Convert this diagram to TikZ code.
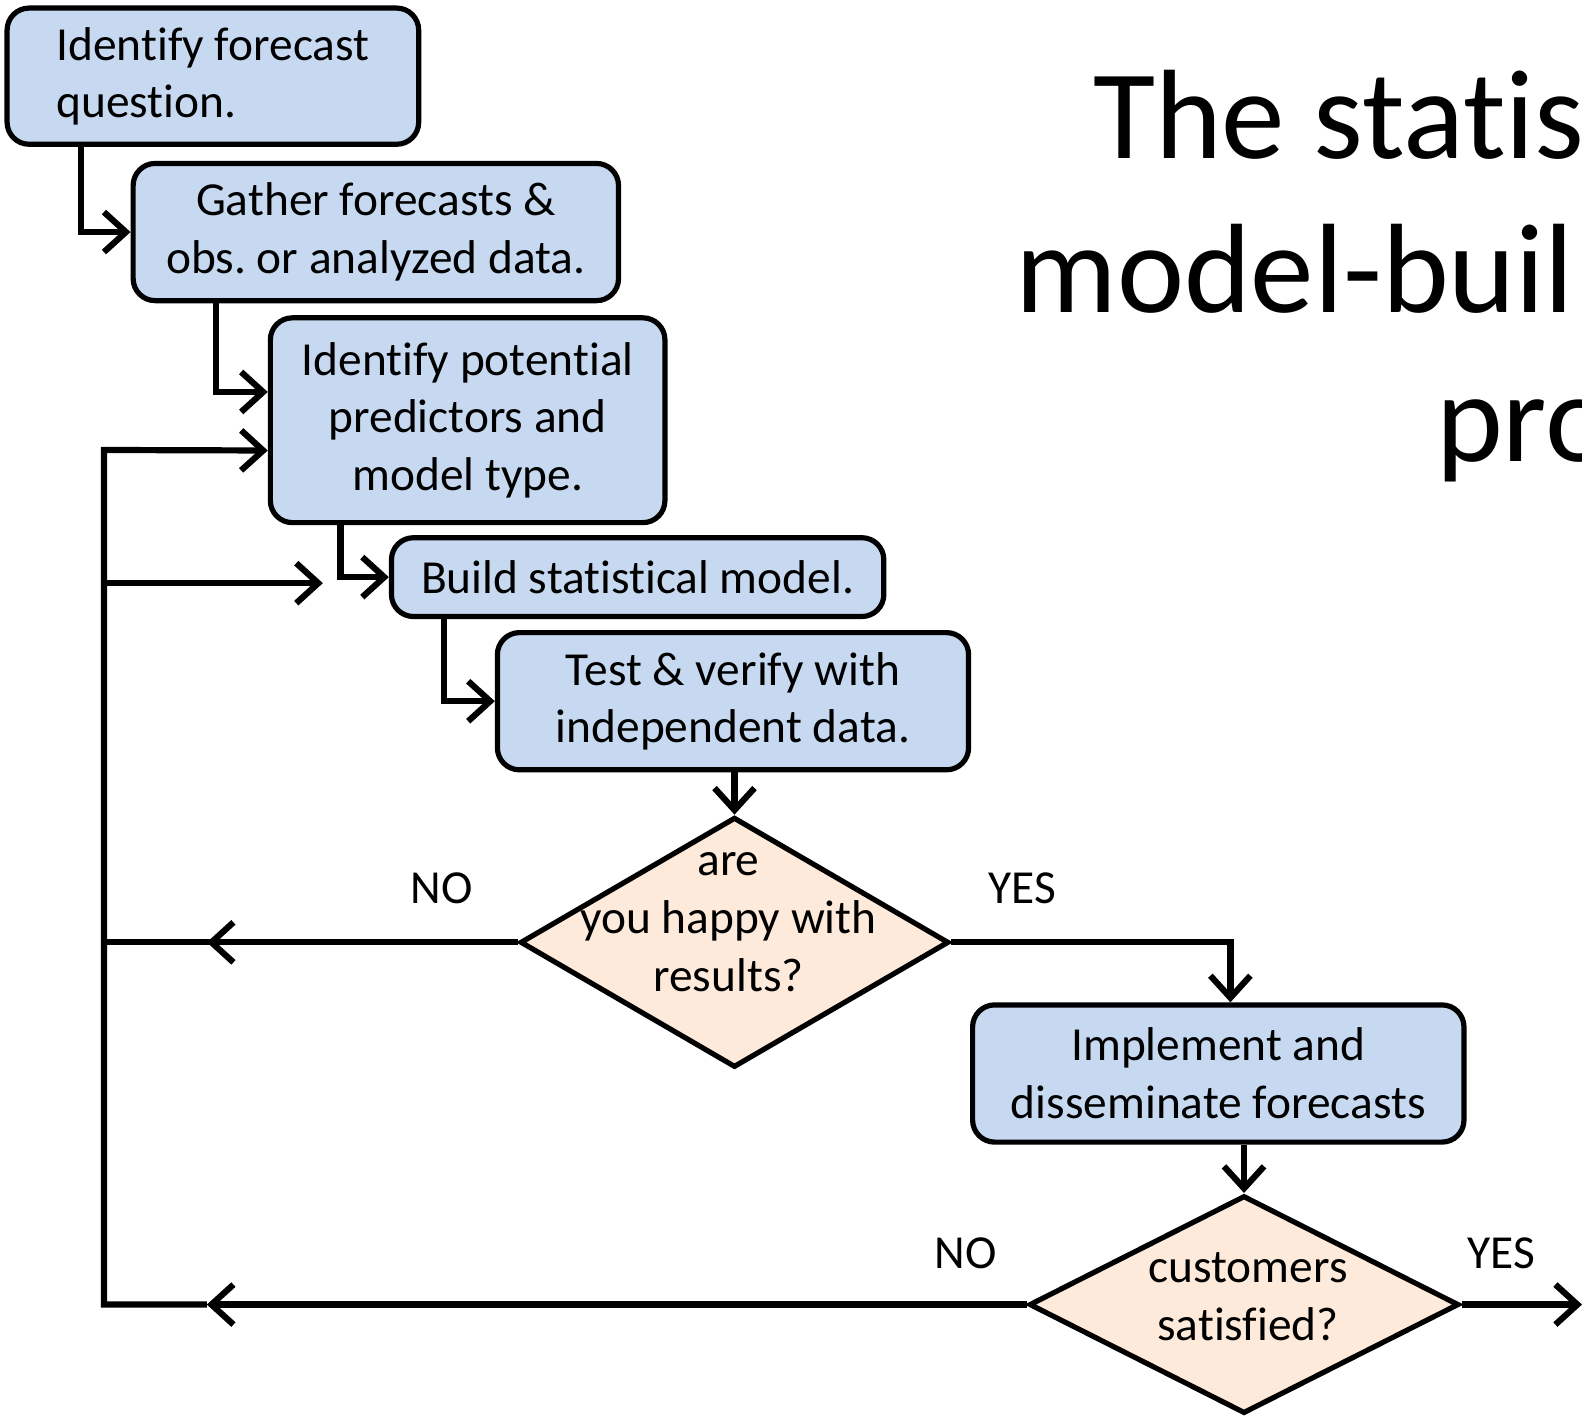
\documentclass[tikz,border=0pt]{standalone}
\usepackage{fontspec}
\setmainfont{Carlito}[Ligatures=NoCommon]
\usepackage{tikz}
\usetikzlibrary{arrows.meta,calc,shapes.geometric}
\definecolor{boxblue}{HTML}{C6D9F1}
\definecolor{qpeach}{HTML}{FDEADA}
\frenchspacing

\begin{document}
\begin{tikzpicture}[x=0.5045pt, y=-0.5045pt,
	stepbox/.style={draw, line width=2.6pt, rounded corners=11pt, fill=boxblue, align=center, inner sep=0pt, font=\fontsize{23.7}{28.8}\selectfont},
	query/.style={draw, line width=2.6pt, diamond, fill=qpeach, inner sep=0pt},
	flow/.style={line width=3.1pt, -{Straight Barb[length=11pt, width=20pt]}},
	wire/.style={line width=3.1pt, line cap=rect},
	answer/.style={inner sep=0pt, font=\fontsize{23.7}{28.8}\selectfont},
	heading/.style={anchor=base west, inner sep=0pt, font=\fontsize{63.6}{75}\selectfont}]

\useasboundingbox (0,0) rectangle (1568,1403);

% title, running off the right edge
\node[heading] (title1) at (1083,157) {The statis};
\node[heading] (title2) at (1006,310) {model-buil};
\node[heading] (title3) at (1423,457) {pro};

% steps
\node[stepbox, minimum width=205.8pt, minimum height=68.1pt, align=left] (ask) at (211,75.5) {Identify forecast\\question.};
\node[stepbox, minimum width=242.7pt, minimum height=68.6pt] (gather) at (372.5,230) {Gather forecasts \&\\obs. or analyzed data.};
\node[stepbox, minimum width=197.3pt, minimum height=102.4pt] (pick) at (463.5,416.5) {Identify potential\\predictors and\\model type.};
\node[stepbox, minimum width=246.2pt, minimum height=39.4pt] (build) at (632,572) {Build statistical model.};
\node[stepbox, minimum width=235.6pt, minimum height=68.6pt] (test) at (726.5,695) {Test \& verify with\\independent data.};
\node[stepbox, minimum width=245.7pt, minimum height=68.6pt] (deploy) at (1207.5,1064) {Implement and\\disseminate forecasts};

% questions
\node[query, minimum width=214.4pt, minimum height=125.1pt] (happy) at (728,934) {};
\node[answer, align=center] (happytext) at (722,914) {are\\you happy with\\results?};
\node[query, minimum width=214.9pt, minimum height=109pt] (satisfied) at (1233,1293) {};
\node[answer, align=center] (satisfiedtext) at (1237,1285) {customers\\satisfied?};

\node[answer] (no1) at (438,880) {NO};
\node[answer] (yes1) at (1013,880) {YES};
\node[answer] (no2) at (957,1242) {NO};
\node[answer] (yes2) at (1488,1242) {YES};

\coordinate (trunktop) at (103,446);
\coordinate (trunkmid) at (103,578);
\coordinate (trunkA) at (103,934);
\coordinate (trunkB) at (103,1293);
\coordinate (backtip) at (320,578);
\coordinate (noA) at (205,934);
\coordinate (noB) at (205,1293);
\coordinate (done) at (1568,1293);

% forward path
\draw[flow] ($(ask.south west)+(76,0)$) |- (gather.west);
\draw[flow] ($(gather.south west)+(85,0)$) |- ($(pick.west)+(0,-28)$);
\draw[flow] ($(pick.south west)+(72,0)$) |- (build.west);
\draw[flow] ($(build.south west)+(55,0)$) |- (test.west);
\draw[flow] (test.south -| happy.north) -- (happy.north);
\draw[flow] (happy.east) -| ($(deploy.north)+(12,0)$);
\draw[flow] (deploy.south -| satisfied.north) -- (satisfied.north);
\draw[flow] (satisfied.east) -- (done);

% loops back
\draw[flow] (happy.west) -- (noA);
\draw[wire] (noA) -- (trunkA);
\draw[flow] (satisfied.west) -- (noB);
\draw[flow] (noB) -- (trunkB) -- (trunktop) -- ($(pick.west)+(0,30)$);
\draw[flow] (trunkmid) -- (backtip);
\end{tikzpicture}
\end{document}
